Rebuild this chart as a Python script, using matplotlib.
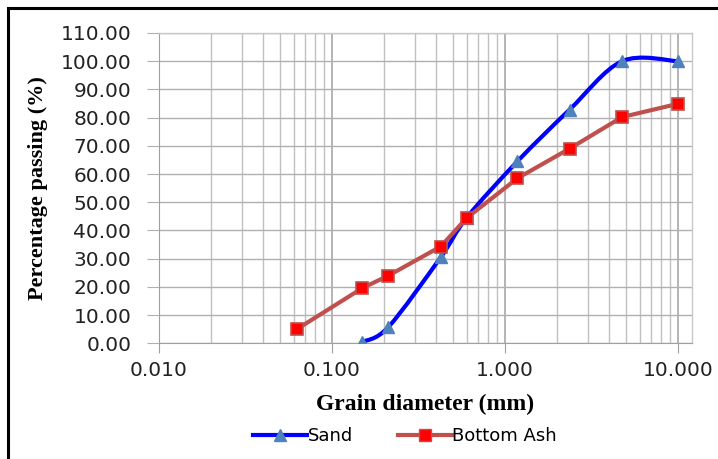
import numpy as np
import matplotlib
matplotlib.use('Agg')
import matplotlib.pyplot as plt
from matplotlib.path import Path
from matplotlib.patches import PathPatch, Rectangle
from matplotlib.lines import Line2D
from matplotlib.ticker import LogLocator, FixedLocator, NullFormatter

# data (grain size in mm, % passing)
sand_d = [0.15, 0.212, 0.425, 0.6, 1.18, 2.36, 4.75, 10.0]
sand_p = [0.5, 5.8, 30.5, 44.5, 64.5, 82.8, 100.0, 100.0]
ash_d = [0.063, 0.15, 0.212, 0.425, 0.6, 1.18, 2.36, 4.75, 10.0]
ash_p = [5.1, 19.6, 24.0, 34.3, 44.4, 58.5, 69.0, 80.2, 84.9]
yticks = np.arange(0, 111, 10)
xticks = [0.01, 0.1, 1.0, 10.0]


def smooth_path(xs, ys):
    # excel style smoothed line: catmull-rom -> bezier, done in log10(x) space
    lx = np.log10(xs)
    pts = np.column_stack([lx, ys])
    n = len(pts)
    verts = [pts[0]]
    codes = [Path.MOVETO]
    for i in range(n - 1):
        p0 = pts[i - 1] if i > 0 else pts[i]
        p1 = pts[i]
        p2 = pts[i + 1]
        p3 = pts[i + 2] if i + 2 < n else pts[i + 1]
        c1 = p1 + (p2 - p0) / 6.0
        c2 = p2 - (p3 - p1) / 6.0
        verts += [c1, c2, p2]
        codes += [Path.CURVE4] * 3
    verts = np.array(verts)
    verts[:, 0] = 10 ** verts[:, 0]
    return Path(verts, codes)


fig = plt.figure(figsize=(7.18, 4.59), dpi=100)
ax = fig.add_axes([159/718, 1-343.3/459, (692-159)/718, (343.3-33)/459])

blue = '#0000FF'
tri = '#4F81BD'
ashc = '#C0504D'

ax.add_patch(PathPatch(smooth_path(sand_d, sand_p), facecolor='none',
                       edgecolor=blue, lw=3, zorder=3, capstyle='round'))
ax.plot(sand_d, sand_p, ls='none', marker='^', ms=9, mfc=tri, mec=tri, zorder=4)
ax.plot(ash_d, ash_p, color=ashc, lw=3, marker='s', ms=8, mfc='#FF0000',
        mec=ashc, mew=1.2, zorder=5)

ax.set_xscale('log')
ax.set_xlim(0.01, 12.05)
ax.set_ylim(0, 110)
ax.xaxis.set_major_locator(FixedLocator(xticks))
ax.set_xticklabels(['%.3f' % v for v in xticks])
ax.xaxis.set_minor_locator(LogLocator(base=10, subs=np.arange(2, 10), numticks=20))
ax.xaxis.set_minor_formatter(NullFormatter())
ax.set_yticks(yticks)
ax.set_yticklabels(['%.2f' % v for v in yticks])

ax.grid(which='major', axis='x', color='#A0A0A0', lw=1.1)
ax.grid(which='minor', axis='x', color='#C0C0C0', lw=1.0)
ax.grid(which='major', axis='y', color='#B0B0B0', lw=1.0)
ax.set_axisbelow(True)
for s in ['top', 'right']:
    ax.spines[s].set_color('#C8C8C8')
    ax.spines[s].set_linewidth(1.0)
ax.spines['left'].set_color('#A0A0A0')
ax.spines['bottom'].set_color('#A0A0A0')

ax.tick_params(axis='x', which='major', length=7, color='#A0A0A0', pad=6,
               labelsize=14.5, labelcolor='#222222')
ax.tick_params(axis='x', which='minor', length=0)
ax.tick_params(axis='y', length=9, color='#B0B0B0', pad=11, labelsize=14.5,
               labelcolor='#222222')

ax.set_xlabel('Grain diameter (mm)', family='Liberation Serif', weight='bold',
              fontsize=17, va='center')
ax.set_ylabel('Percentage passing (%)', family='Liberation Serif', weight='bold',
              fontsize=16, va='center')
ax.xaxis.set_label_coords(0.5, -(404 - 343.3) / 310.3)
ax.yaxis.set_label_coords((38 - 159) / 533, 0.5)

handles = [Line2D([], [], color=blue, lw=3, marker='^', ms=9, mfc=tri, mec=tri),
           Line2D([], [], color=ashc, lw=3, marker='s', ms=8, mfc='#FF0000', mec=ashc)]
fig.legend(handles, ['Sand', 'Bottom Ash'], loc='center', bbox_to_anchor=(405/718, 1-436/459),
           ncol=2, frameon=False, fontsize=13, handlelength=3, handletextpad=0.0,
           columnspacing=2.5)

fig.add_artist(Rectangle((7.5/718, -0.1), 1.2, 1 - 7.5/459 + 0.1, transform=fig.transFigure,
                         fill=False, edgecolor='black', lw=2.2, clip_on=False))

fig.savefig('out.png', dpi=100)
